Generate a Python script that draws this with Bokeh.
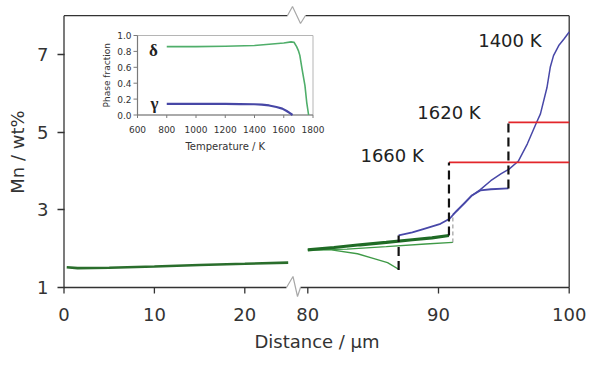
import math
from bokeh.plotting import figure
from bokeh.models import Range1d, FixedTicker, CustomJSTickFormatter
from bokeh.core.properties import value
from bokeh.embed import file_html
from bokeh.resources import INLINE

# ---------------- data ----------------
# left part of the broken axis (0-25 um)
left_dist = [0.3, 1.5, 5, 10, 15, 20, 24.8]
left_mn = [1.52, 1.50, 1.51, 1.54, 1.58, 1.61, 1.64]

# 1660 K: delta (thick green) -> step -> liquid (red)
d1660_dist = [80, 82, 84, 86, 88, 89.5, 90.8]
d1660_mn = [1.97, 2.03, 2.10, 2.16, 2.23, 2.28, 2.34]
step1660_dist = [90.8, 90.8]
step1660_mn = [2.34, 4.22]
liq1660_dist = [90.8, 100]
liq1660_mn = [4.22, 4.22]

# 1620 K: delta (thin green) -> step -> gamma (blue) -> step -> liquid (red)
d1620_dist = [80, 81.8, 83.8, 85.0, 86.1, 86.95]
d1620_mn = [1.97, 1.97, 1.87, 1.75, 1.64, 1.47]
step1620a_dist = [86.95, 86.95]
step1620a_mn = [1.45, 2.34]
g1620_dist = [86.95, 88.0, 88.9, 90.15, 90.85, 91.4, 91.9, 92.55, 93.2, 94.0, 95.35]
g1620_mn = [2.34, 2.42, 2.51, 2.64, 2.77, 2.98, 3.15, 3.37, 3.50, 3.53, 3.55]
step1620b_dist = [95.35, 95.35]
step1620b_mn = [3.55, 5.25]
liq1620_dist = [95.35, 100]
liq1620_mn = [5.25, 5.25]

# 1400 K: delta (thin green) -> step -> gamma (blue)
d1400_dist = [80, 83, 86, 89, 91.1]
d1400_mn = [1.97, 1.99, 2.05, 2.12, 2.16]
step1400_dist = [91.1, 91.1]
step1400_mn = [2.16, 2.88]
g1400_dist = [91.1, 91.5, 92.0, 92.6, 93.2, 94.0, 94.8, 95.4, 96.1, 96.8, 97.5,
              97.8, 98.3, 98.55, 98.8, 99.2, 99.6, 100.0]
g1400_mn = [2.88, 3.0, 3.17, 3.38, 3.52, 3.75, 3.93, 4.05, 4.25, 4.70, 5.25,
            5.47, 6.15, 6.67, 6.97, 7.23, 7.40, 7.58]

temp_labels = ["1400 K", "1620 K", "1660 K"]

# inset: phase fraction vs temperature
temp_delta = [800, 1000, 1200, 1400, 1500, 1600, 1650, 1670, 1688, 1700, 1710,
              1725, 1745, 1757, 1770]
frac_delta = [0.86, 0.86, 0.865, 0.875, 0.89, 0.905, 0.92, 0.915, 0.86, 0.81,
              0.75, 0.58, 0.37, 0.16, 0.0]
temp_gamma = [800, 1000, 1200, 1300, 1400, 1450, 1500, 1550, 1590, 1620, 1645, 1660]
frac_gamma = [0.14, 0.14, 0.14, 0.138, 0.135, 0.13, 0.12, 0.10, 0.08, 0.05, 0.02, 0.0]
phase_names = ["δ", "γ"]

# ticks
y_ticks = [1, 3, 5, 7]
left_ticks = [0, 10, 20]
right_ticks = [80, 90, 100]
inset_t_ticks = [600, 800, 1000, 1200, 1400, 1600, 1800]
inset_f_ticks = [0.0, 0.2, 0.4, 0.6, 0.8, 1.0]

# ---------------- layout calibration (value <-> canvas pixel) ----------------
LEFT_CAL = (0, 63.5, 20, 244.3)
RIGHT_CAL = (80, 307.3, 100, 568.7)
Y_CAL = (1, 287, 7, 54)
T_CAL = (600, 137, 1800, 312.5)
F_CAL = (0, 114.5, 1, 35)
FX0, FX1, FY0, FY1 = 62, 571, 4, 299   # frame edges (canvas px)
W, H = 598, 365


def p2v(cal, px):
    v0, p0, v1, p1 = cal
    return v0 + (px - p0) * (v1 - v0) / (p1 - p0)


def v2p(cal, v):
    v0, p0, v1, p1 = cal
    return p0 + (v - v0) * (p1 - p0) / (v1 - v0)


p = figure(width=W, height=H, output_backend="svg", toolbar_location=None,
           x_range=Range1d(p2v(RIGHT_CAL, FX0), p2v(RIGHT_CAL, FX1)),
           y_range=Range1d(p2v(Y_CAL, FY1), p2v(Y_CAL, FY0)),
           min_border_left=FX0, min_border_right=W - FX1,
           min_border_top=FY0, min_border_bottom=H - FY1)
p.extra_x_ranges = {
    "left": Range1d(p2v(LEFT_CAL, FX0), p2v(LEFT_CAL, FX1)),
    "temp": Range1d(p2v(T_CAL, FX0), p2v(T_CAL, FX1)),
}
p.extra_y_ranges = {"frac": Range1d(p2v(F_CAL, FY1), p2v(F_CAL, FY0))}

p.outline_line_color = None
p.grid.visible = False
p.background_fill_color = "white"
p.border_fill_color = "white"

AX = "#333333"
FONT = "DejaVu Sans"

# bottom axis: left-part ticks mapped to main range, labels mapped back
left_tick_pos = [p2v(RIGHT_CAL, v2p(LEFT_CAL, v)) for v in left_ticks]
a = (p2v(LEFT_CAL, v2p(RIGHT_CAL, 1.0)) - p2v(LEFT_CAL, v2p(RIGHT_CAL, 0.0)))
b = p2v(LEFT_CAL, v2p(RIGHT_CAL, 0.0))
xa = p.xaxis[0]
xa.ticker = FixedTicker(ticks=left_tick_pos + right_ticks)
xa.formatter = CustomJSTickFormatter(
    args=dict(a=a, b=b, cut=p2v(RIGHT_CAL, 300)),
    code="if (tick > cut) { return tick.toFixed(0); } "
         "return (Math.round(a*tick + b) + 0).toFixed(0);")
xa.axis_line_color = None
xa.major_tick_line_color = None
xa.minor_tick_line_color = None
xa.major_tick_out = 0
xa.major_tick_in = 0
xa.major_label_standoff = 8
xa.major_label_text_font = FONT
xa.major_label_text_font_size = "18px"
xa.major_label_text_color = AX
xa.axis_label = "Distance / µm"
xa.axis_label_text_font = FONT
xa.axis_label_text_font_style = "normal"
xa.axis_label_text_font_size = "18px"
xa.axis_label_text_color = AX
xa.axis_label_standoff = 7

ya = p.yaxis[0]
ya.ticker = FixedTicker(ticks=y_ticks)
ya.axis_line_color = None
ya.major_tick_line_color = AX
ya.major_tick_line_width = 1.3
ya.minor_tick_line_color = None
ya.major_tick_out = 5
ya.major_tick_in = 2
ya.major_label_standoff = 9
ya.major_label_text_font = FONT
ya.major_label_text_font_size = "18px"
ya.major_label_text_color = AX
ya.axis_label = "Mn / wt%"
ya.axis_label_text_font = FONT
ya.axis_label_text_font_style = "normal"
ya.axis_label_text_font_size = "18px"
ya.axis_label_text_color = AX
ya.axis_label_standoff = 6

# ---------------- frame with axis break ----------------
ytop, ybot = 8, 1
p.line([0, 0], [ybot, ytop], x_range_name="left", line_color=AX, line_width=1.3)
p.line([0, p2v(LEFT_CAL, 287)], [ytop, ytop], x_range_name="left", line_color=AX, line_width=1.3)
p.line([0, p2v(LEFT_CAL, 286)], [ybot, ybot], x_range_name="left", line_color=AX, line_width=1.3)
p.line([p2v(RIGHT_CAL, 305), 100], [ytop, ytop], line_color=AX, line_width=1.3)
p.line([p2v(RIGHT_CAL, 300), 100], [ybot, ybot], line_color=AX, line_width=1.3)
p.line([100, 100], [ybot, ytop], line_color=AX, line_width=1.3)
# break marks
zig_top = [(287, 15), (292, 6), (300, 23), (305, 15)]
zig_bot = [(286, 287), (292.5, 276), (297, 296), (300, 287)]
for z in (zig_top, zig_bot):
    p.line([p2v(RIGHT_CAL, q[0]) for q in z], [p2v(Y_CAL, q[1]) for q in z],
           line_color="#a8a8a8", line_width=1.2)
# x tick marks
tick_end = p2v(Y_CAL, 293)
p.segment(x0=left_ticks, x1=left_ticks, y0=[ybot] * 3, y1=[tick_end] * 3,
          x_range_name="left", line_color=AX, line_width=1.3)
p.segment(x0=right_ticks, x1=right_ticks, y0=[ybot] * 3, y1=[tick_end] * 3,
          line_color=AX, line_width=1.3)

# ---------------- data lines ----------------
DG = "#1f6b25"
TG = "#3f9a47"
BL = "#4848a8"
RD = "#e3262b"
p.line(left_dist, left_mn, x_range_name="left", line_color="#2a6e2c", line_width=2.6)

p.line(d1400_dist, d1400_mn, line_color=TG, line_width=1.3)
p.line(step1400_dist, step1400_mn, line_color="#8a8a8a", line_width=1.0, line_dash="4 3")
p.line(d1620_dist, d1620_mn, line_color=TG, line_width=1.4)
p.line(d1660_dist, d1660_mn, line_color=DG, line_width=3.2)

p.line(g1400_dist, g1400_mn, line_color=BL, line_width=1.5, line_join="round")
p.line(g1620_dist, g1620_mn, line_color=BL, line_width=1.8, line_join="round")

p.line(liq1660_dist, liq1660_mn, line_color=RD, line_width=1.8)
p.line(liq1620_dist, liq1620_mn, line_color=RD, line_width=1.8)

for xs, ys in ((step1660_dist, step1660_mn), (step1620a_dist, step1620a_mn),
               (step1620b_dist, step1620b_mn)):
    p.line(xs, ys, line_color="#111111", line_width=2.2, line_dash="9 5")

p.text(x=[95.46, 90.80, 86.45], y=[7.36, 5.50, 4.40], text=temp_labels,
       text_font=value(FONT), text_font_size="18px", text_color="#222222",
       text_align="center", text_baseline="middle")

# ---------------- inset ----------------
IR = dict(x_range_name="temp", y_range_name="frac")
p.quad(left=[600], right=[1800], bottom=[0], top=[1], fill_color="white",
       line_color="#b5b5b5", line_width=1.0, **IR)
p.line([600, 600, 1800], [1, 0, 0], line_color="#7a7a7a", line_width=1.2, **IR)
ft = p2v(F_CAL, v2p(F_CAL, 0) + 3)
p.segment(x0=inset_t_ticks, x1=inset_t_ticks, y0=[0] * len(inset_t_ticks),
          y1=[ft] * len(inset_t_ticks), line_color="#7a7a7a", line_width=1, **IR)
tt = p2v(T_CAL, v2p(T_CAL, 600) - 4)
p.segment(x0=[600] * len(inset_f_ticks), x1=[tt] * len(inset_f_ticks),
          y0=inset_f_ticks, y1=inset_f_ticks, line_color="#7a7a7a", line_width=1, **IR)

p.line(temp_delta, frac_delta, line_color="#4fae6a", line_width=1.6, line_join="round", **IR)
p.line(temp_gamma, frac_gamma, line_color="#4747a6", line_width=2.2, line_join="round", **IR)

p.text(x=inset_t_ticks, y=[0] * len(inset_t_ticks), text=[str(t) for t in inset_t_ticks],
       y_offset=14.5, text_font=value(FONT), text_font_size="9px", text_color="#333333",
       text_align="center", text_baseline="middle", **IR)
p.text(x=[600] * len(inset_f_ticks), y=inset_f_ticks, text=["%.1f" % f for f in inset_f_ticks],
       x_offset=-6, text_font=value(FONT), text_font_size="9px", text_color="#333333",
       text_align="right", text_baseline="middle", **IR)
p.text(x=[600], y=[0.5], text=["Phase fraction"], angle=math.pi / 2, x_offset=-31,
       text_font=value(FONT), text_font_size="9px", text_color="#333333",
       text_align="center", text_baseline="middle", **IR)
p.text(x=[1200], y=[0], text=["Temperature / K"], y_offset=31.5,
       text_font=value(FONT), text_font_size="10px", text_color="#333333",
       text_align="center", text_baseline="middle", **IR)
p.text(x=[709, 716], y=[0.81, 0.145], text=phase_names,
       text_font=value("Liberation Serif"), text_font_style="bold", text_font_size="17px",
       text_color="#222222", text_align="center", text_baseline="middle", **IR)

open("out.html", "w").write(file_html(p, INLINE))
